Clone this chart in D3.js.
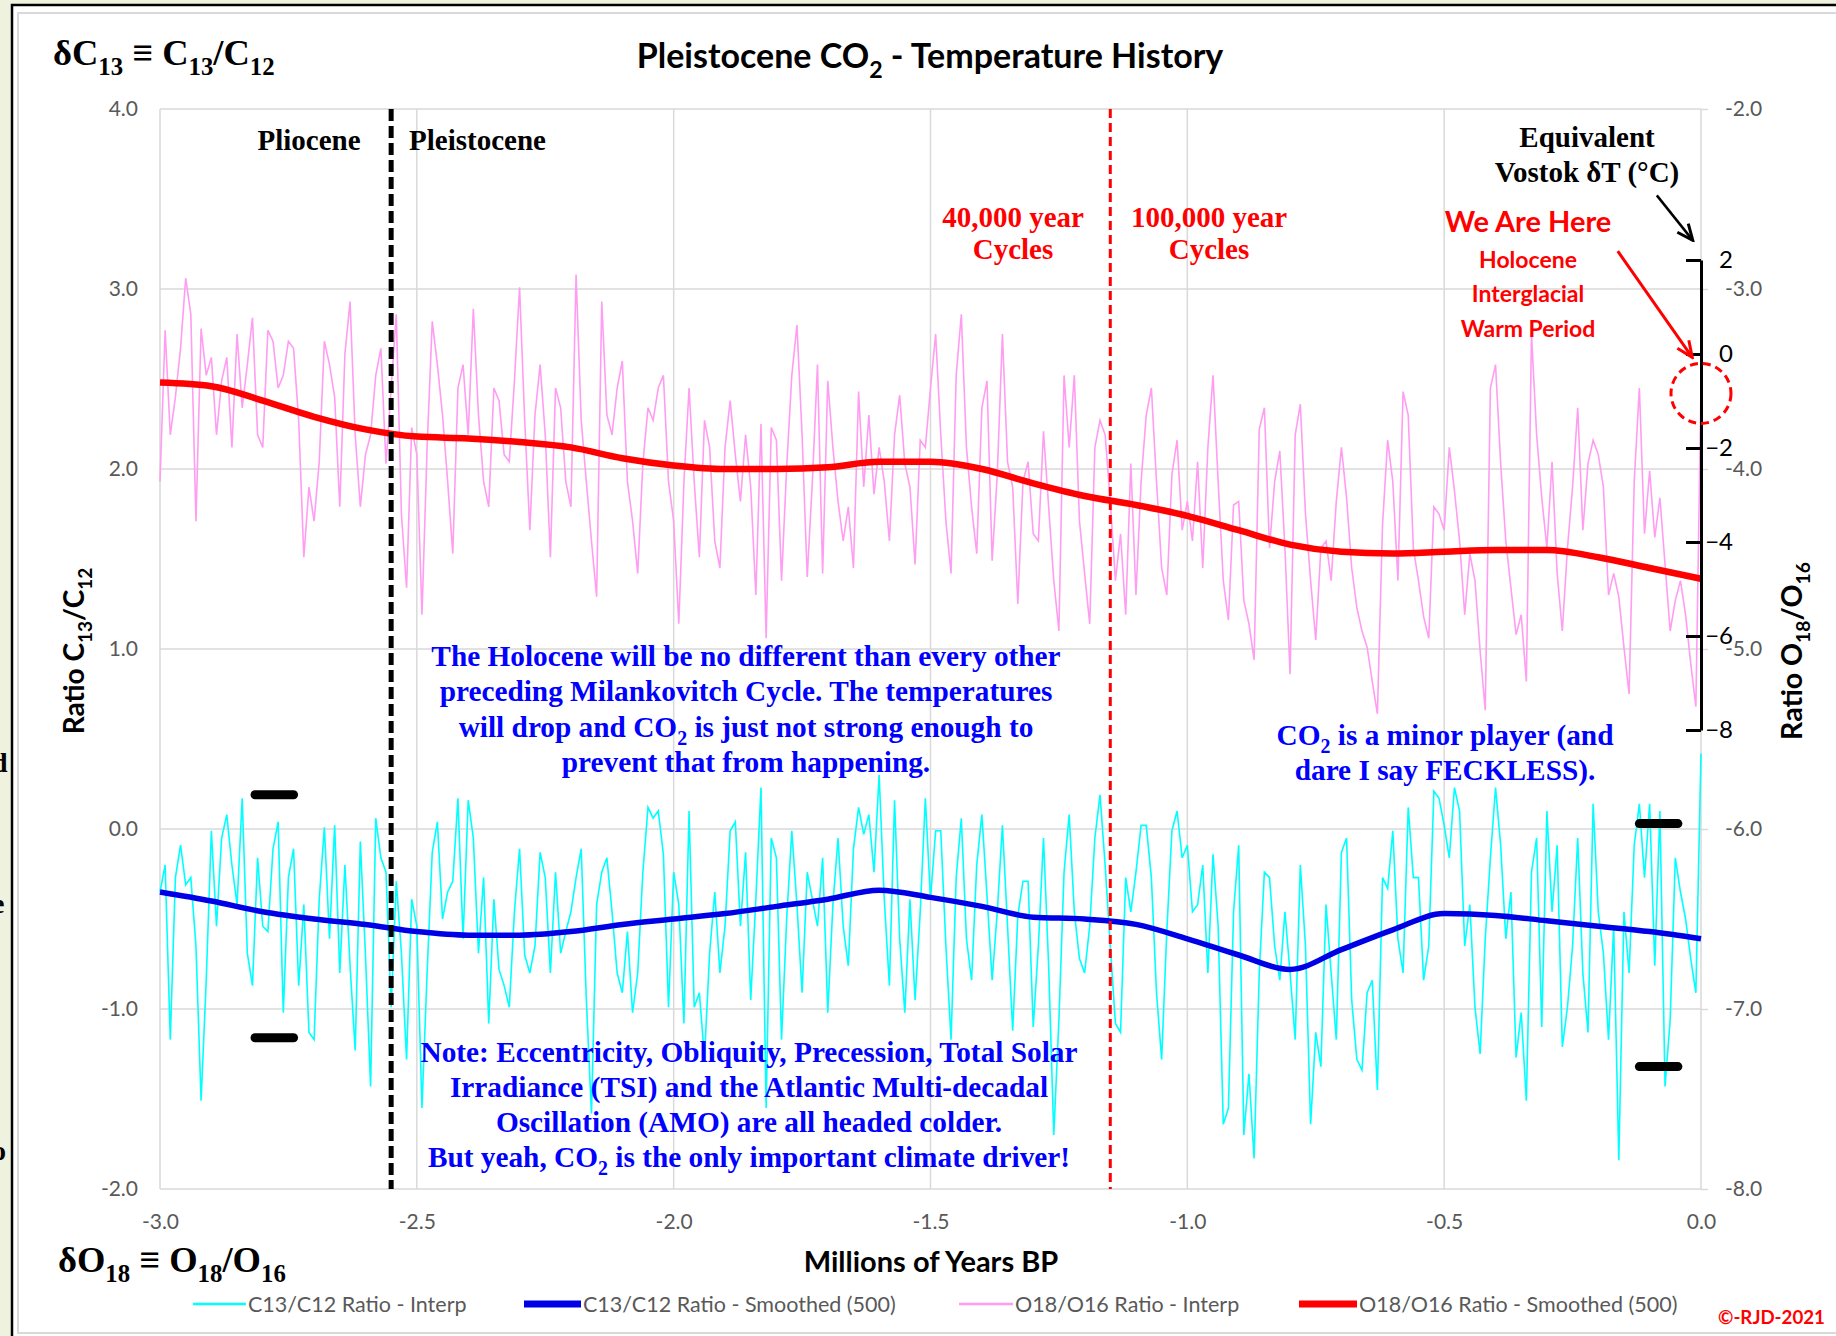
<!DOCTYPE html>
<html>
<head>
<meta charset="utf-8">
<script src="https://cdn.jsdelivr.net/npm/d3@7"></script>
<style>
  body { margin: 0; background: #fff; }
</style>
</head>
<body>
<div id="chart"></div>
<script>
// ---- data ----
var interpStep = 0.01;   // Ma between interp samples, starting at -3.0
var smoothStep = 0.1;    // Ma between smoothed samples

var o18Interp = [
  -4.07,-3.23,-3.81,-3.60,-3.33,-2.94,-3.14,-4.29,-3.22,-3.48,
  -3.38,-3.81,-3.51,-3.38,-3.88,-3.25,-3.66,-3.42,-3.16,-3.81,
  -3.88,-3.23,-3.29,-3.55,-3.48,-3.29,-3.33,-3.73,-4.49,-4.10,
  -4.29,-3.96,-3.29,-3.42,-3.60,-4.21,-3.36,-3.07,-3.81,-4.21,
  -3.92,-3.81,-3.48,-3.33,-3.97,-3.55,-3.14,-4.25,-4.66,-3.77,
  -3.92,-4.81,-3.88,-3.18,-3.42,-3.70,-4.07,-4.47,-3.55,-3.42,
  -3.81,-3.11,-3.70,-4.07,-4.21,-3.55,-3.62,-3.92,-3.96,-3.51,
  -2.99,-3.73,-4.34,-3.70,-3.42,-3.81,-4.49,-3.55,-3.66,-4.07,
  -4.21,-2.92,-3.73,-4.07,-4.40,-4.71,-3.07,-3.70,-3.81,-3.55,
  -3.40,-4.07,-4.29,-4.58,-3.97,-3.66,-3.73,-3.55,-3.48,-4.07,
  -4.29,-4.86,
  -4.07,-3.55,-4.07,-4.49,-3.73,-3.88,-4.40,-4.55,-3.88,-3.62,
  -3.92,-4.18,-3.81,-4.10,-4.70,-3.75,-4.94,-3.77,-3.84,-4.62,
  -3.99,-3.48,-3.20,-3.81,-4.60,-4.07,-3.42,-4.58,-3.51,-3.88,
  -4.18,-4.40,-4.21,-4.55,-3.57,-4.10,-3.70,-4.14,-3.88,-4.07,
  -4.40,-3.81,-3.59,-3.97,-4.10,-4.53,-3.84,-3.88,-3.55,-3.25,
  -3.81,-4.29,-4.58,-3.48,-3.14,-3.88,-4.21,-4.47,-3.66,-3.51,
  -4.51,-4.03,-3.25,-3.96,-4.10,-4.75,-4.07,-3.96,-4.36,-4.40,
  -3.79,-4.21,-4.62,-4.90,-3.48,-3.88,-3.48,-4.29,-4.58,-4.86,
  -3.88,-3.73,-3.81,-4.18,-4.62,-4.36,-4.81,-3.97,-4.70,-4.07,
  -3.70,-3.55,-4.07,-4.55,-4.70,-4.03,-3.84,-4.34,-4.18,-4.40,
  -3.96,-4.55,
  -3.88,-3.48,-4.07,-4.62,-4.84,-4.20,-4.18,-4.73,-4.86,-5.06,
  -3.78,-3.66,-4.44,-4.07,-3.90,-4.44,-5.14,-3.81,-3.64,-4.25,
  -4.62,-4.95,-4.44,-4.40,-4.62,-4.18,-3.88,-4.16,-4.55,-4.77,
  -4.90,-4.99,-5.18,-5.36,-4.31,-3.84,-4.07,-4.62,-3.57,-3.70,
  -4.44,-4.62,-4.82,-4.94,-4.21,-4.25,-4.34,-3.88,-4.12,-4.40,
  -4.81,-4.47,-4.62,-5.01,-5.34,-3.55,-3.42,-3.97,-4.40,-4.66,
  -4.92,-4.81,-5.18,-3.25,-3.81,-4.16,-4.44,-3.96,-4.58,-4.90,
  -4.44,-4.10,-3.66,-4.34,-3.97,-3.84,-3.92,-4.10,-4.70,-4.58,
  -4.71,-4.99,-5.25,-4.07,-3.55,-4.36,-4.01,-4.38,-4.16,-4.53,
  -4.90,-4.73,-4.62,-4.81,-5.08,-5.32,-3.55
];

var c13Interp = [
  -0.35,-0.20,-1.17,-0.27,-0.09,-0.31,-0.27,-0.65,-1.51,-0.84,
  -0.01,-0.54,-0.05,0.08,-0.20,-0.42,0.17,-0.69,-0.87,-0.16,
  -0.54,-0.57,-0.11,0.04,-1.02,-0.27,-0.11,-0.87,-0.42,-1.13,
  -1.17,-0.39,0.01,-0.61,0.02,-0.80,-0.20,-0.76,-1.23,-0.07,
  -0.70,-1.43,0.06,-0.16,-0.24,-0.99,-0.29,-0.69,-1.28,-0.39,
  -0.54,-1.55,-0.80,-0.13,0.04,-0.50,-0.35,-0.29,0.17,-0.61,
  0.16,-0.05,-0.69,-0.27,-1.08,-0.39,-0.78,-0.87,-0.99,-0.46,
  -0.11,-0.70,-0.80,-0.65,-0.13,-0.27,-0.80,-0.24,-0.69,-0.57,
  -0.46,-0.27,-0.11,-0.95,-1.58,-0.42,-0.24,-0.16,-0.46,-0.80,
  -0.91,-0.57,-1.02,-0.80,-0.24,0.12,0.06,0.10,-0.14,-0.99,
  -0.24,-0.42,
  -1.08,0.10,-0.99,-0.91,-1.27,-0.69,-0.35,-0.80,-0.54,-0.01,
  0.04,-0.54,-0.13,-0.95,-0.39,0.23,-1.55,-0.05,-0.16,-1.17,
  -0.50,-0.01,-0.42,-0.91,-0.24,-0.39,-0.54,-0.16,-1.02,-0.42,
  -0.05,-0.54,-0.76,-0.11,0.12,-0.03,0.08,-0.24,0.30,-0.39,
  -0.87,0.16,-0.61,-1.02,-0.39,-0.95,-0.46,0.17,-0.39,-0.01,
  -0.01,-0.65,-1.17,-0.27,0.06,-0.61,-0.84,-0.20,0.08,-0.37,
  -0.84,-0.46,0.02,-0.54,-1.12,-0.48,-0.29,-0.29,-1.10,-0.65,
  -0.05,-0.76,-1.70,-1.06,-0.24,0.08,-0.46,-0.72,-0.80,-0.54,
  -0.05,0.19,-0.20,-0.65,-1.08,-1.13,-0.27,-0.46,-0.24,0.02,
  0.02,-0.27,-0.91,-1.28,-0.57,-0.01,0.10,-0.16,-0.09,-0.46,
  -0.42,-0.20,
  -0.80,-0.14,-0.54,-1.64,-1.55,-0.46,-0.09,-1.70,-1.36,-1.83,
  -0.80,-0.24,-0.27,-0.65,-0.84,-0.46,-0.80,-1.17,-0.20,-0.65,
  -1.64,-1.13,-1.32,-0.42,-0.80,-1.17,-0.13,-0.05,-0.95,-1.28,
  -1.34,-0.91,-0.84,-1.45,-0.27,-0.33,-0.01,-0.61,-0.80,0.12,
  -0.27,-0.27,-0.84,-0.65,0.21,0.17,0.02,-0.16,0.23,0.10,
  -0.65,-0.42,-0.99,-1.25,-0.61,-0.16,0.23,-0.09,-0.61,-0.35,
  -1.27,-1.02,-1.51,-0.24,-0.05,-1.10,0.10,-0.46,-0.09,-1.21,
  -0.99,-0.65,-0.05,-0.80,-1.13,0.14,-0.46,-0.69,-1.17,-0.54,
  -1.84,-0.46,-0.80,-0.09,0.14,-0.27,0.14,-0.76,0.10,-1.43,
  -1.06,-0.16,-0.35,-0.50,-0.72,-0.91,0.42
];

var o18Smooth = [-3.52,-3.54,-3.62,-3.71,-3.78,-3.82,-3.83,-3.85,-3.88,-3.94,
  -3.98,-4.00,-4.00,-3.99,-3.96,-3.96,-4.00,-4.08,-4.15,-4.20,
  -4.26,-4.34,-4.42,-4.46,-4.47,-4.46,-4.45,-4.45,-4.49,-4.55,-4.61];

var c13Smooth = [-0.35,-0.40,-0.46,-0.50,-0.53,-0.57,-0.59,-0.59,-0.57,-0.53,
  -0.50,-0.47,-0.43,-0.39,-0.34,-0.38,-0.43,-0.49,-0.50,-0.53,
  -0.61,-0.70,-0.78,-0.67,-0.56,-0.47,-0.48,-0.51,-0.54,-0.57,-0.61];

var xTicks = [-3.0, -2.5, -2.0, -1.5, -1.0, -0.5, 0.0];
var leftTicks = [4, 3, 2, 1, 0, -1, -2];
var rightTicks = [-2, -3, -4, -5, -6, -7, -8];
var vostokTicks = [2, 0, -2, -4, -6, -8];

var epochBoundary = -2.55;   // Pliocene / Pleistocene
var cycleBoundary = -1.15;   // 40 kyr -> 100 kyr cycles

var legendNames = ["C13/C12 Ratio - Interp", "C13/C12 Ratio - Smoothed (500)",
  "O18/O16 Ratio - Interp", "O18/O16 Ratio - Smoothed (500)"];

// little black range markers: [x0, x1, left-axis value]
var rangeBars = [[-2.815, -2.74, 0.19], [-2.815, -2.74, -1.16],
  [-0.12, -0.045, 0.03], [-0.12, -0.045, -1.32]];

// ---- layout ----
var W = 1836, H = 1336;
var plot = { left: 160, right: 1701, top: 109, bottom: 1189 };
var serif = "'Liberation Serif', 'Times New Roman', serif";
var sans = "Lato, 'Open Sans', sans-serif";

var x = d3.scaleLinear().domain([-3, 0]).range([plot.left, plot.right]);
var yLeft = d3.scaleLinear().domain([-2, 4]).range([plot.bottom, plot.top]);
var yRight = d3.scaleLinear().domain([-8, -2]).range([plot.bottom, plot.top]);
var yVostok = d3.scaleLinear().domain([-8, 2]).range([730, 260]);

var svg = d3.select("#chart").append("svg")
  .attr("width", W).attr("height", H);

// slide background + frame
svg.append("rect").attr("width", W).attr("height", H).attr("fill", "#eef2df");
[["d", 772], ["e", 913], ["o", 1160]].forEach(function (f) {
  svg.append("text").attr("x", -8).attr("y", f[1]).text(f[0])
    .attr("font-family", serif).attr("font-weight", "bold").attr("font-size", 28);
});
svg.append("rect").attr("x", 12).attr("y", 5).attr("width", W).attr("height", H)
  .attr("fill", "#fff").attr("stroke", "#000").attr("stroke-width", 2.5);
svg.append("rect").attr("x", 18).attr("y", 13).attr("width", W).attr("height", 1320)
  .attr("fill", "none").attr("stroke", "#d9d9d9").attr("stroke-width", 2);

// text with subscripts; parts: "normal" or ["sub"]
function richText(g, px, py, parts, o) {
  var t = g.append("text").attr("x", px).attr("y", py)
    .attr("font-family", o.family).attr("font-size", o.size)
    .attr("font-weight", o.weight || "bold").attr("fill", o.fill || "#000")
    .attr("text-anchor", o.anchor || "middle");
  if (o.transform) t.attr("transform", o.transform);
  var down = false, d = o.size * 0.28;
  parts.forEach(function (p) {
    var isSub = Array.isArray(p);
    var s = t.append("tspan").text(isSub ? p[0] : p);
    if (isSub) {
      s.attr("font-size", o.size * (o.sub || 0.68));
      if (!down) { s.attr("dy", d); down = true; }
    } else if (down) {
      s.attr("dy", -d); down = false;
    }
  });
  return t;
}

// gridlines
var grid = svg.append("g").attr("stroke", "#d9d9d9").attr("stroke-width", 1.5);
grid.selectAll(".h").data(leftTicks).enter().append("line")
  .attr("x1", plot.left).attr("x2", plot.right)
  .attr("y1", function (d) { return yLeft(d); }).attr("y2", function (d) { return yLeft(d); });
grid.selectAll(".v").data(xTicks).enter().append("line")
  .attr("y1", plot.top).attr("y2", plot.bottom)
  .attr("x1", function (d) { return x(d); }).attr("x2", function (d) { return x(d); });

// axes
var fmt = function (d) { return d.toFixed(1); };
var axLeft = svg.append("g").attr("transform", "translate(" + plot.left + ",0)")
  .call(d3.axisLeft(yLeft).tickValues(leftTicks).tickFormat(fmt).tickSize(0).tickPadding(22));
var axRight = svg.append("g").attr("transform", "translate(" + plot.right + ",0)")
  .call(d3.axisRight(yRight).tickValues(rightTicks).tickFormat(fmt).tickSizeInner(7).tickSizeOuter(0).tickPadding(17));
var axBottom = svg.append("g").attr("transform", "translate(0," + plot.bottom + ")")
  .call(d3.axisBottom(x).tickValues(xTicks).tickFormat(fmt).tickSize(0).tickPadding(25));
[axLeft, axRight, axBottom].forEach(function (a) {
  a.select(".domain").remove();
  a.selectAll("line").attr("stroke", "#d9d9d9").attr("stroke-width", 1.5);
  a.selectAll("text").attr("font-family", sans).attr("font-size", 21).attr("fill", "#595959");
});

// series
var interpYear = function (d, i) { return x(-3 + i * interpStep); };
var smoothYear = function (d, i) { return x(-3 + i * smoothStep); };

svg.append("path").datum(o18Interp)
  .attr("fill", "none").attr("stroke", "#ff9df2").attr("stroke-width", 1.6)
  .attr("d", d3.line().x(interpYear).y(function (d) { return yRight(d); }));

svg.append("path").datum(c13Interp)
  .attr("fill", "none").attr("stroke", "#00ffff").attr("stroke-width", 1.6)
  .attr("d", d3.line().x(interpYear).y(function (d) { return yLeft(d); }));

svg.append("path").datum(o18Smooth)
  .attr("fill", "none").attr("stroke", "#ff0000").attr("stroke-width", 6.5)
  .attr("d", d3.line().curve(d3.curveMonotoneX).x(smoothYear).y(function (d) { return yRight(d); }));

svg.append("path").datum(c13Smooth)
  .attr("fill", "none").attr("stroke", "#0000e6").attr("stroke-width", 5.5)
  .attr("d", d3.line().curve(d3.curveMonotoneX).x(smoothYear).y(function (d) { return yLeft(d); }));

// boundaries
svg.append("line").attr("x1", x(epochBoundary)).attr("x2", x(epochBoundary))
  .attr("y1", plot.top).attr("y2", plot.bottom)
  .attr("stroke", "#000").attr("stroke-width", 5).attr("stroke-dasharray", "12,5");
svg.append("line").attr("x1", x(cycleBoundary)).attr("x2", x(cycleBoundary))
  .attr("y1", plot.top).attr("y2", plot.bottom)
  .attr("stroke", "#ff0000").attr("stroke-width", 3).attr("stroke-dasharray", "9,5");

// Vostok temperature axis
var axV = svg.append("g").attr("transform", "translate(" + plot.right + ",0)")
  .call(d3.axisRight(yVostok).tickValues(vostokTicks).tickSizeInner(-15).tickSizeOuter(0));
axV.select(".domain").attr("stroke", "#000").attr("stroke-width", 3);
axV.selectAll("line").attr("stroke", "#000").attr("stroke-width", 3);
axV.selectAll("text").attr("x", 32).attr("text-anchor", "end")
  .attr("font-family", sans).attr("font-size", 24).attr("fill", "#000");

// range bars
svg.selectAll(".bar").data(rangeBars).enter().append("line")
  .attr("x1", function (d) { return x(d[0]); }).attr("x2", function (d) { return x(d[1]); })
  .attr("y1", function (d) { return yLeft(d[2]); }).attr("y2", function (d) { return yLeft(d[2]); })
  .attr("stroke", "#000").attr("stroke-width", 9).attr("stroke-linecap", "round");

// titles
richText(svg, 930, 68, ["Pleistocene CO", ["2"], " - Temperature History"],
  { family: sans, size: 34 });
richText(svg, 53, 65, ["δC", ["13"], " ≡ C", ["13"], "/C", ["12"]],
  { family: serif, size: 36.5, anchor: "start" });
richText(svg, 58, 1272, ["δO", ["18"], " ≡ O", ["18"], "/O", ["16"]],
  { family: serif, size: 36.5, anchor: "start" });
richText(svg, 931, 1272, ["Millions of Years BP"], { family: sans, size: 29 });
richText(svg, 0, 0, ["Ratio C", ["13"], "/C", ["12"]],
  { family: sans, size: 28, transform: "translate(84,651) rotate(-90)" });
richText(svg, 0, 0, ["Ratio O", ["18"], "/O", ["16"]],
  { family: sans, size: 28.5, transform: "translate(1802,651) rotate(-90)" });

// annotations
var serifNote = function (txt, px, py, fill) {
  return richText(svg, px, py, txt, { family: serif, size: 29, fill: fill || "#000" });
};
serifNote(["Pliocene"], 309, 150);
serifNote(["Pleistocene"], 409, 150).attr("text-anchor", "start");
serifNote(["40,000 year"], 1013, 227, "#ff0000");
serifNote(["Cycles"], 1013, 259, "#ff0000");
serifNote(["100,000 year"], 1209, 227, "#ff0000");
serifNote(["Cycles"], 1209, 259, "#ff0000");
serifNote(["Equivalent"], 1587, 147);
serifNote(["Vostok δT (°C)"], 1587, 182);

richText(svg, 1528, 232, ["We Are Here"], { family: sans, size: 29, fill: "#ff0000" });
[["Holocene", 268], ["Interglacial", 302], ["Warm Period", 337]].forEach(function (l) {
  richText(svg, 1528, l[1], [l[0]], { family: sans, size: 23, fill: "#ff0000" });
});

var blue = "#0000ff";
var note1 = [["The Holocene will be no different than every other"],
  ["preceding Milankovitch Cycle. The temperatures"],
  ["will drop and CO", ["2"], " is just not strong enough to"],
  ["prevent that from happening."]];
note1.forEach(function (l, i) {
  richText(svg, 746, 666 + i * 35.3, l, { family: serif, size: 29.3, fill: blue });
});
var note2 = [["CO", ["2"], " is a minor player (and"], ["dare I say FECKLESS)."]];
note2.forEach(function (l, i) {
  richText(svg, 1445, 745 + i * 35, l, { family: serif, size: 29.3, fill: blue });
});
var note3 = [["Note: Eccentricity, Obliquity, Precession, Total Solar"],
  ["Irradiance (TSI) and the Atlantic Multi-decadal"],
  ["Oscillation (AMO) are all headed colder."],
  ["But yeah, CO", ["2"], " is the only important climate driver!"]];
note3.forEach(function (l, i) {
  richText(svg, 749, 1062 + i * 35, l, { family: serif, size: 29.3, fill: blue });
});

// arrows + "we are here" circle
var defs = svg.append("defs");
[["headBlack", "#000"], ["headRed", "#ff0000"]].forEach(function (m) {
  defs.append("marker").attr("id", m[0]).attr("viewBox", "0 0 20 20")
    .attr("refX", 18).attr("refY", 10).attr("markerWidth", 20).attr("markerHeight", 20)
    .attr("markerUnits", "userSpaceOnUse").attr("orient", "auto")
    .append("path").attr("d", "M2,3 L18,10 L2,17").attr("fill", "none")
    .attr("stroke", m[1]).attr("stroke-width", 3);
});
svg.append("line")
  .attr("x1", x(-0.086)).attr("y1", yRight(-2.48)).attr("x2", x(-0.016)).attr("y2", yRight(-2.73))
  .attr("stroke", "#000").attr("stroke-width", 2.5).attr("marker-end", "url(#headBlack)");
svg.append("line")
  .attr("x1", x(-0.162)).attr("y1", yRight(-2.79)).attr("x2", x(-0.017)).attr("y2", yRight(-3.38))
  .attr("stroke", "#ff0000").attr("stroke-width", 3).attr("marker-end", "url(#headRed)");
svg.append("circle").attr("cx", x(0)).attr("cy", yRight(-3.58)).attr("r", 30)
  .attr("fill", "none").attr("stroke", "#ff0000").attr("stroke-width", 3)
  .attr("stroke-dasharray", "8,5");

// legend
var legend = svg.append("g").attr("transform", "translate(0,1304)");
var legendStyle = [
  { x0: 193, x1: 246, color: "#00ffff", w: 2.5 },
  { x0: 524, x1: 581, color: "#0000e6", w: 7 },
  { x0: 959, x1: 1013, color: "#ff9df2", w: 2.5 },
  { x0: 1299, x1: 1357, color: "#ff0000", w: 7 }
];
legendNames.forEach(function (name, i) {
  var s = legendStyle[i];
  legend.append("line").attr("x1", s.x0).attr("x2", s.x1)
    .attr("stroke", s.color).attr("stroke-width", s.w);
  legend.append("text").attr("x", s.x1 + 2).attr("y", 7.5).text(name)
    .attr("font-family", sans).attr("font-size", 21.5).attr("fill", "#595959");
});

svg.append("text").attr("x", 1718).attr("y", 1324).text("©-RJD-2021")
  .attr("font-family", sans).attr("font-weight", "bold").attr("font-size", 18.7)
  .attr("fill", "#ff0000");
</script>
</body>
</html>
